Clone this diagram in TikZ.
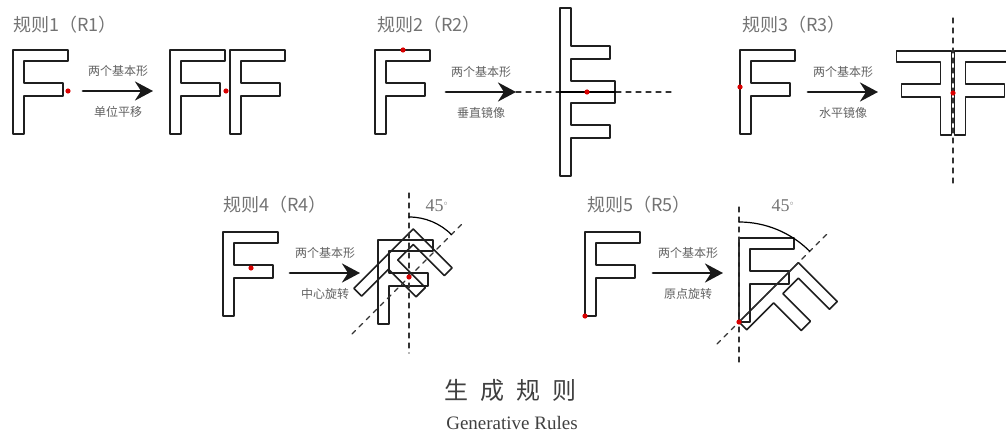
\documentclass[tikz,border=0pt]{standalone}
\usepackage{fontspec}
\newfontfamily\cjk{Noto Sans CJK SC}
\newfontfamily\capserif{Liberation Serif}
\usetikzlibrary{arrows.meta,positioning}

\tikzset{
	fline/.style={draw=black!88, line width=1.6pt},
	dashline/.style={black!80, line width=1.1pt, dash pattern=on 5pt off 5pt},
	bigarrow/.style={-{Stealth[length=18pt,width=19pt,inset=6pt]}, line width=2.8pt, black!90},
	lab/.style={font=\cjk\fontsize{12}{12}\selectfont, text=black!62},
	ruletitle/.style={font=\cjk\fontsize{18}{18}\selectfont, text=black!55, anchor=west, inner sep=0pt},
	degtext/.style={font=\capserif\fontsize{18}{18}\selectfont, text=black!55},
	reddot/.style={fill=red!85!black},
	pics/letterF/.style={code={
		\draw[fline] (0,0) -- (55,0) -- (55,-11) -- (11,-11) -- (11,-33) -- (50,-33)
		-- (50,-46) -- (11,-46) -- (11,-84) -- (0,-84) -- cycle;
	}},
}

\begin{document}
\begin{tikzpicture}[x=1pt, y=1pt, line cap=round, line join=round]
	% Page window
	\useasboundingbox (0,0) rectangle (1006,437);
	
	% Rule titles
	\foreach \n/\x/\y in {1/13/412, 2/377/412, 3/742/412, 4/223/232, 5/587/232}
	\node[ruletitle] (title\n) at (\x,\y) {规则\n（R\n）};
	
	% Arrows with their two labels
	\foreach \n/\x/\y/\txt in {1/83/346/单位平移, 2/446/345/垂直镜像, 3/808/345/水平镜像,
		4/290/164/中心旋转, 5/653/164/原点旋转} {
		\coordinate (arr\n-s) at (\x,\y);
		\coordinate (arr\n-e) at (\x+70,\y);
		\draw[bigarrow] (arr\n-s) -- (arr\n-e);
		\node[lab] (up\n) at (\x+35,\y+20) {两个基本形};
		\node[lab] (down\n) at (\x+35,\y-21) {\txt};
	}
	
	% Rule 1: unit translation
	\pic at (13,387) {letterF};
	\fill[reddot] (68,346) circle (2.6pt);
	\pic at (170,387) {letterF};
	\pic at (230,387) {letterF};
	\fill[reddot] (226,346) circle (2.6pt);
	
	% Rule 2: vertical mirror
	\pic at (375,387) {letterF};
	\fill[reddot] (403,387) circle (2.6pt);
	\coordinate (axis2r) at (673,345);
	\draw[dashline] (arr2-e) -- (axis2r);
	\begin{scope}[shift={(560,345)}, transform shape]
		\pic at (0,0) {letterF};
		\begin{scope}[yscale=-1, transform shape]
			\pic at (0,0) {letterF};
		\end{scope}
		\draw[line width=2.8pt] (0,0) -- (55,0);
		\fill[reddot] (27,0) circle (2.6pt);
	\end{scope}
	
	% Rule 3: horizontal mirror
	\pic at (740,387) {letterF};
	\fill[reddot] (740,350) circle (2.6pt);
	\coordinate (axis3t) at (953,419);
	\coordinate (axis3b) at (953,254);
	\begin{scope}[shift={(951.5,386)}, xscale=-1, transform shape]
		\pic at (0,0) {letterF};
	\end{scope}
	\pic at (954.5,386) {letterF};
	\draw[dashline] (axis3t) -- (axis3b);
	\fill[reddot] (953,344) circle (2.6pt);
	
	% Rule 4: rotation about the centre
	\pic at (223,205) {letterF};
	\fill[reddot] (251,169) circle (2.6pt);
	\coordinate (c4) at (409,160);
	\pic at (378,197) {letterF};
	\begin{scope}[shift={(c4)}, rotate=-45, transform shape]
		\pic at (-31,37) {letterF};
	\end{scope}
	\draw[dashline] (409,244) -- (409,84);
	\draw[dashline] (352,103) -- (463,214);
	\draw[line width=1.2pt] (409,220) arc[start angle=90, end angle=45, radius=60];
	\node[degtext] (deg4) at (437,231) {45\textsuperscript{\scriptsize$\circ$}};
	\fill[reddot] (c4) circle (2.6pt);
	
	% Rule 5: rotation about the origin
	\pic at (585,205) {letterF};
	\fill[reddot] (585,121) circle (2.6pt);
	\coordinate (c5) at (739,115);
	\pic at (739,199) {letterF};
	\begin{scope}[shift={(c5)}, rotate=-45, transform shape]
		\pic at (0,84) {letterF};
	\end{scope}
	\draw[dashline] (739,230) -- (739,75);
	\draw[dashline] (717,93) -- (827,203);
	\draw[line width=1.2pt] (739,215) arc[start angle=90, end angle=45, radius=100];
	\node[degtext] (deg5) at (783,231) {45\textsuperscript{\scriptsize$\circ$}};
	\fill[reddot] (c5) circle (2.6pt);
	
	% Caption
	\node[font=\cjk\fontsize{24}{24}\selectfont, text=black!75] (capzh) at (510,47)
	{生\hspace{12pt}成\hspace{12pt}规\hspace{12pt}则};
	\node[font=\capserif\fontsize{19}{19}\selectfont, text=black!75] (capen) at (512,14) {Generative Rules};
	
\end{tikzpicture}
\end{document}
